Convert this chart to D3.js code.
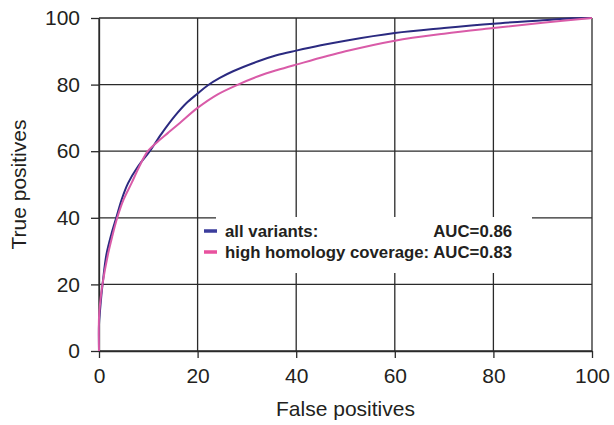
<!DOCTYPE html>
<html>
<head>
<meta charset="utf-8">
<script src="https://cdn.jsdelivr.net/npm/d3@7"></script>
<style>
  body { margin: 0; background: #fff; }
  svg { display: block; font-family: "Liberation Sans", Arial, sans-serif; }
</style>
</head>
<body>
<div id="chart"></div>
<script>
// ROC curve values (percent)
const fpAll = [0, 0, 0.2, 0.5, 0.8, 1.5, 2.5, 3.5, 4.6, 5.9, 7.9, 10.3, 12.7, 15.4, 17.7, 20, 22.1, 24.5, 27.2, 32.3, 36, 40, 45, 50, 60, 70, 80, 90, 96, 100];
const tpAll = [0, 8, 12, 17, 21, 28.9, 35, 40, 45.5, 50.4, 55.4, 60, 65.3, 70.6, 74.4, 77.3, 79.8, 82, 84, 87, 88.8, 90.2, 91.8, 93.2, 95.5, 97, 98.3, 99.3, 99.9, 100];

const fpHigh = [0, 0, 0.2, 0.7, 1.8, 2.7, 3.7, 5, 6.6, 8.2, 9.9, 12, 14, 16.4, 20, 24, 28.2, 32.3, 36, 40, 50, 60, 70, 80, 90, 100];
const tpHigh = [0, 10, 14, 20, 28.9, 34.5, 40, 45.5, 50.4, 55.5, 60, 63, 65.5, 68.5, 73, 77, 80, 82.5, 84.3, 86, 90, 93.2, 95.3, 97, 98.6, 100];

const xTicks = [0, 20, 40, 60, 80, 100];
const yTicks = [0, 20, 40, 60, 80, 100];

const seriesNames = ["all variants:", "high homology coverage:"];
const aucLabels = ["AUC=0.86", "AUC=0.83"];
const seriesColors = ["#2b2a80", "#d95ba8"];
const legendColors = ["#3b3d9c", "#e8519e"];

const W = 614, H = 425;
const margin = { left: 99, top: 18, right: 22, bottom: 74 };
const width = W - margin.left - margin.right;
const height = H - margin.top - margin.bottom;

const svg = d3.select("#chart").append("svg")
    .attr("width", W)
    .attr("height", H);

const g = svg.append("g")
    .attr("transform", `translate(${margin.left},${margin.top})`);

const x = d3.scaleLinear().domain([0, 100]).range([0, width]);
const y = d3.scaleLinear().domain([0, 100]).range([height, 0]);

// grid lines
g.append("g")
    .selectAll("line")
    .data(yTicks)
    .enter().append("line")
    .attr("x1", 0).attr("x2", width)
    .attr("y1", d => y(d)).attr("y2", d => y(d))
    .attr("stroke", "#2a2a2a")
    .attr("stroke-width", 1.3);

g.append("g")
    .selectAll("line")
    .data(xTicks)
    .enter().append("line")
    .attr("y1", 0).attr("y2", height)
    .attr("x1", d => x(d)).attr("x2", d => x(d))
    .attr("stroke", "#2a2a2a")
    .attr("stroke-width", 1.3);

// axes
const xAxis = g.append("g")
    .attr("transform", `translate(0,${height})`)
    .call(d3.axisBottom(x).tickValues(xTicks).tickSize(7).tickPadding(10).tickSizeOuter(0));

const yAxis = g.append("g")
    .call(d3.axisLeft(y).tickValues(yTicks).tickSize(8).tickPadding(11).tickSizeOuter(0));

[xAxis, yAxis].forEach(a => {
    a.select(".domain").attr("stroke", "#2a2a2a").attr("stroke-width", 1.3);
    a.selectAll(".tick line").attr("stroke", "#2a2a2a").attr("stroke-width", 1.3);
    a.selectAll(".tick text")
        .attr("fill", "#231f20")
        .style("font-size", "21px")
        .style("font-family", "Liberation Sans, Arial, sans-serif");
});

// white legend background hides the grid behind it
g.append("rect")
    .attr("x", 117)
    .attr("y", 199)
    .attr("width", 316)
    .attr("height", 56)
    .attr("fill", "#fff");

// curves
const line = d3.line()
    .curve(d3.curveCatmullRom.alpha(0.5))
    .x(d => x(d[0]))
    .y(d => y(d[1]));

const curves = [
    d3.zip(fpAll, tpAll),
    d3.zip(fpHigh, tpHigh)
];

g.append("g")
    .selectAll("path")
    .data(curves)
    .enter().append("path")
    .attr("d", line)
    .attr("fill", "none")
    .attr("stroke", (d, i) => seriesColors[i])
    .attr("stroke-width", 2)
    .attr("stroke-linejoin", "round");

// legend
const legendFont = "16.8px";
const legend = g.append("g")
    .attr("transform", `translate(105,213)`);

const rows = legend.selectAll("g")
    .data(seriesNames)
    .enter().append("g")
    .attr("transform", (d, i) => `translate(0,${i * 21})`);

rows.append("line")
    .attr("x1", 0).attr("x2", 13)
    .attr("y1", 0).attr("y2", 0)
    .attr("stroke", (d, i) => legendColors[i])
    .attr("stroke-width", 3.5);

rows.append("text")
    .attr("x", 21)
    .attr("y", 6)
    .attr("fill", "#231f20")
    .style("font-size", legendFont)
    .style("font-weight", "bold")
    .text(d => d);

// AUC values are right aligned to the end of the longest legend line
const probe = legend.append("text")
    .style("font-size", legendFont)
    .style("font-weight", "bold")
    .text(seriesNames[1] + " " + aucLabels[1]);
const aucRight = 21 + probe.node().getComputedTextLength();
probe.remove();

rows.append("text")
    .attr("x", aucRight)
    .attr("y", 6)
    .attr("text-anchor", "end")
    .attr("fill", "#231f20")
    .style("font-size", legendFont)
    .style("font-weight", "bold")
    .text((d, i) => aucLabels[i]);

// axis titles
svg.append("text")
    .attr("x", margin.left + width / 2)
    .attr("y", 416)
    .attr("text-anchor", "middle")
    .attr("fill", "#231f20")
    .style("font-size", "21px")
    .text("False positives");

svg.append("text")
    .attr("transform", `translate(26,${margin.top + height / 2}) rotate(-90)`)
    .attr("text-anchor", "middle")
    .attr("fill", "#231f20")
    .style("font-size", "21px")
    .text("True positives");
</script>
</body>
</html>
